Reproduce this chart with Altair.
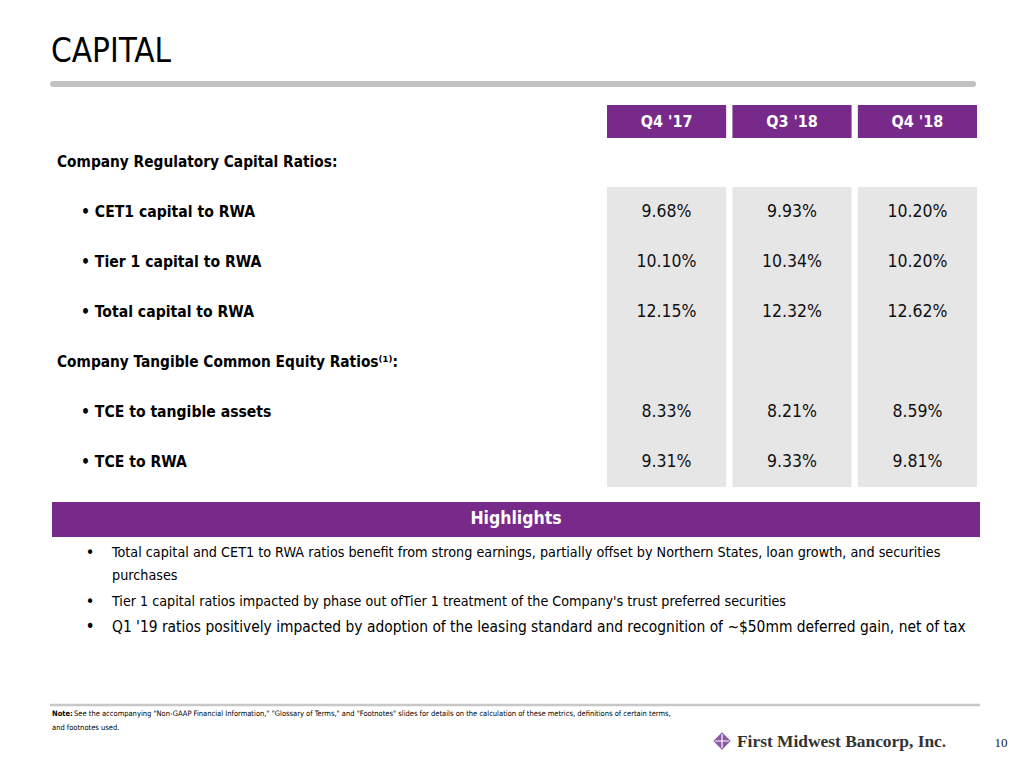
import altair as alt
import pandas as pd

# ---------------- data ----------------
title_text = "CAPITAL"
columns = ["Q4 '17", "Q3 '18", "Q4 '18"]
row_labels = [
    "Company Regulatory Capital Ratios:",
    "• CET1 capital to RWA",
    "• Tier 1 capital to RWA",
    "• Total capital to RWA",
    "Company Tangible Common Equity Ratios⁽¹⁾:",
    "• TCE to tangible assets",
    "• TCE to RWA",
]
row_kind = ["header", "item", "item", "item", "header", "item", "item"]
shaded_rows = row_labels[1:]
q4_17 = [None, 9.68, 10.10, 12.15, None, 8.33, 9.31]
q3_18 = [None, 9.93, 10.34, 12.32, None, 8.21, 9.33]
q4_18 = [None, 10.20, 10.20, 12.62, None, 8.59, 9.81]

highlights_title = "Highlights"
highlight_1a = "Total capital and CET1 to RWA ratios benefit from strong earnings, partially offset by Northern States, loan growth, and securities"
highlight_1b = "purchases"
highlight_2 = "Tier 1 capital ratios impacted by phase out ofTier 1 treatment of the Company's trust preferred securities"
highlight_3 = "Q1 '19 ratios positively impacted by adoption of the leasing standard and recognition of ~$50mm deferred gain, net of tax"

note_label = "Note:"
note_line1 = "See the accompanying \"Non-GAAP Financial Information,\" \"Glossary of Terms,\" and \"Footnotes\" slides for details on the calculation of these metrics, definitions of certain terms,"
note_line2 = "and footnotes used."
company_name = "First Midwest Bancorp, Inc."
page_number = "10"

# ---------------- tables ----------------
series = {columns[0]: q4_17, columns[1]: q3_18, columns[2]: q4_18}
cells = pd.DataFrame(
    [
        {"row": r, "col": c, "value": series[c][i], "kind": row_kind[i]}
        for c in columns
        for i, r in enumerate(row_labels)
    ]
)
values_df = cells.dropna(subset=["value"])
shade_df = cells[cells["row"].isin(shaded_rows)]
cols_df = pd.DataFrame({"col": columns})
rows_df = pd.DataFrame({"row": row_labels, "kind": row_kind})
one = pd.DataFrame({"k": [0]})

FONT = "DejaVu Sans Condensed, Liberation Sans, sans-serif"
PURPLE = "#772A8A"
GRAY = "#E6E6E6"

xscale = alt.Scale(domain=columns, range=[599, 969], paddingInner=0.05, paddingOuter=0)
yscale = alt.Scale(domain=row_labels, range=[129, 479], paddingInner=0, paddingOuter=0)

X = alt.X("col:N", scale=xscale, axis=None)
Xc = alt.X("col:N", scale=xscale, axis=None, bandPosition=0.5)
Y = alt.Y("row:N", scale=yscale, axis=None)
Yc = alt.Y("row:N", scale=yscale, axis=None, bandPosition=0.5)

shade = alt.Chart(shade_df).mark_rect(color=GRAY).encode(x=X, y=Y)

head_box = alt.Chart(cols_df).mark_rect(color=PURPLE).encode(
    x=X, y=alt.value(97), y2=alt.value(130)
)
head_text = alt.Chart(cols_df).mark_text(
    font=FONT, fontSize=16, fontWeight="bold", color="white", baseline="middle", align="center"
).encode(x=Xc, y=alt.value(114), text="col:N")

val_text = alt.Chart(values_df).transform_calculate(
    label="format(datum.value, '.2f') + '%'"
).mark_text(
    font=FONT, fontSize=17.5, color="#111111", baseline="middle", align="center"
).encode(x=Xc, y=Yc, text="label:N")

lab_head = alt.Chart(rows_df).transform_filter("datum.kind == 'header'").mark_text(
    font=FONT, fontSize=15.3, fontWeight="bold", color="black", baseline="middle", align="left"
).encode(x=alt.value(49), y=Yc, text="row:N")
lab_item = alt.Chart(rows_df).transform_filter("datum.kind == 'item'").mark_text(
    font=FONT, fontSize=15.6, fontWeight="bold", color="black", baseline="middle", align="left"
).encode(x=alt.value(73), y=Yc, text="row:N")

title = alt.Chart(one).mark_text(
    font=FONT, fontSize=33, color="black", baseline="alphabetic", align="left"
).encode(x=alt.value(43), y=alt.value(54), text=alt.value(title_text))

title_rule = alt.Chart(one).mark_rule(color="#C2C2C2", strokeWidth=6, strokeCap="round").encode(
    x=alt.value(45), x2=alt.value(965), y=alt.value(76)
)

hl_box = alt.Chart(one).mark_rect(color=PURPLE).encode(
    x=alt.value(44), x2=alt.value(972), y=alt.value(494), y2=alt.value(529)
)
hl_title = alt.Chart(one).mark_text(
    font=FONT, fontSize=17.5, fontWeight="bold", color="white", baseline="middle", align="center"
).encode(x=alt.value(508), y=alt.value(511), text=alt.value(highlights_title))


def hl_line(txt, y, size, bullet=True):
    layers = [
        alt.Chart(one).mark_text(
            font=FONT, fontSize=size, color="black", baseline="middle", align="left"
        ).encode(x=alt.value(104), y=alt.value(y), text=alt.value(txt))
    ]
    if bullet:
        layers.append(
            alt.Chart(one).mark_text(
                font=FONT, fontSize=size + 2, color="black", baseline="middle", align="center"
            ).encode(x=alt.value(82), y=alt.value(y), text=alt.value("•"))
        )
    return layers


hl_layers = (
    hl_line(highlight_1a, 545, 14.25)
    + hl_line(highlight_1b, 568, 14.25, bullet=False)
    + hl_line(highlight_2, 594, 14.2)
    + hl_line(highlight_3, 619, 15.4)
)

foot_rule = alt.Chart(one).mark_rule(color="#C8C8C8", strokeWidth=2.5).encode(
    x=alt.value(42), x2=alt.value(972), y=alt.value(697)
)
note_b = alt.Chart(one).mark_text(
    font=FONT, fontSize=7.5, fontWeight="bold", color="black", baseline="middle", align="left"
).encode(x=alt.value(44), y=alt.value(706), text=alt.value(note_label))
note_1 = alt.Chart(one).mark_text(
    font=FONT, fontSize=7.5, color="black", baseline="middle", align="left"
).encode(x=alt.value(66), y=alt.value(706), text=alt.value(note_line1))
note_2 = alt.Chart(one).mark_text(
    font=FONT, fontSize=7.5, color="black", baseline="middle", align="left"
).encode(x=alt.value(44), y=alt.value(720), text=alt.value(note_line2))

logo_icon = alt.Chart(one).mark_point(
    shape="diamond", filled=True, size=300, color="#8C5AA3", opacity=1
).encode(x=alt.value(714), y=alt.value(733))
logo_cross = alt.Chart(one).mark_point(
    shape="M-1,0L1,0M0,-1L0,1", filled=False, size=200, color="white", strokeWidth=1.2, opacity=1
).encode(x=alt.value(714), y=alt.value(733))
logo_text = alt.Chart(one).mark_text(
    font="Liberation Serif", fontSize=17.4, fontWeight="bold", color="#333333", baseline="middle", align="left"
).encode(x=alt.value(729), y=alt.value(734), text=alt.value(company_name))
page_no = alt.Chart(one).mark_text(
    font="Liberation Serif", fontSize=13, color="#222222", baseline="middle", align="center"
).encode(x=alt.value(993), y=alt.value(735), text=alt.value(page_number))

chart = alt.layer(
    shade, head_box, head_text, val_text, lab_head, lab_item,
    title, title_rule, hl_box, hl_title, *hl_layers,
    foot_rule, note_b, note_1, note_2, logo_icon, logo_cross, logo_text, page_no,
).properties(
    width=1008, height=752, padding=0,
    autosize=alt.AutoSizeParams(type="fit", contains="padding"),
    background="white",
).configure_view(stroke=None)

chart.save("out.html", embed_options={"renderer": "svg", "actions": False})
